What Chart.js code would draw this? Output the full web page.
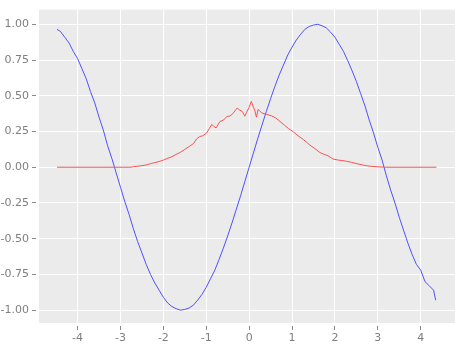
<!DOCTYPE html>
<html>
<head>
<meta charset="utf-8">
<script src="https://cdn.jsdelivr.net/npm/chart.js@4"></script>
<style>
  html,body{margin:0;padding:0;background:#fff}
  #wrap{width:461px;height:350px;position:relative}
</style>
</head>
<body>
<div id="wrap"><canvas id="c" width="461" height="350"></canvas></div>
<script>
// blue curve
const blueX=[-4.48,-4.4,-4.3,-4.2,-4.1,-4.0,-3.9,-3.8,-3.7,-3.6,-3.5,-3.4,-3.3,-3.2,-3.1,-3.0,-2.9,-2.8,-2.7,-2.6,-2.5,-2.4,-2.3,-2.2,-2.1,-2.0,-1.9,-1.8,-1.7,-1.6,-1.5,-1.4,-1.3,-1.2,-1.1,-1.0,-0.9,-0.8,-0.7,-0.6,-0.5,-0.4,-0.3,-0.2,-0.1,
  0,0.1,0.2,0.3,0.4,0.5,0.6,0.7,0.8,0.9,1.0,1.1,1.2,1.3,1.4,1.5,1.6,1.7,1.8,1.9,2.0,2.1,2.2,2.3,2.4,2.5,2.6,2.7,2.8,2.9,3.0,3.1,3.2,3.3,3.4,3.5,3.6,3.7,3.8,3.9,4.0,4.1,4.2,4.3,4.35];
const blueY=[0.965,0.95,0.91,0.87,0.81,0.76,0.69,0.62,0.53,0.45,0.35,0.26,0.15,0.06,-0.04,-0.14,-0.24,-0.33,-0.43,-0.52,-0.60,-0.68,-0.75,-0.81,-0.86,-0.91,-0.95,-0.975,-0.99,-1.0,-0.995,-0.985,-0.965,-0.93,-0.89,-0.84,-0.78,-0.72,-0.645,-0.565,-0.48,-0.39,-0.295,-0.2,-0.1,
  0,0.1,0.2,0.295,0.39,0.48,0.565,0.645,0.715,0.785,0.84,0.89,0.93,0.965,0.985,0.995,1.0,0.99,0.975,0.945,0.91,0.86,0.81,0.745,0.675,0.6,0.515,0.43,0.33,0.24,0.14,0.05,-0.06,-0.16,-0.25,-0.35,-0.44,-0.53,-0.61,-0.68,-0.72,-0.8,-0.83,-0.86,-0.93];

// red curve
const redX=[-4.48,-3.5,-2.75,-2.7,-2.6,-2.5,-2.4,-2.3,-2.2,-2.1,-2.0,-1.9,-1.8,-1.7,-1.6,-1.5,-1.4,-1.3,-1.22,-1.15,-1.08,-0.99,-0.93,-0.87,-0.82,-0.77,-0.72,-0.68,-0.6,-0.52,-0.45,-0.38,-0.28,-0.22,-0.16,-0.1,-0.06,0.0,0.05,0.1,0.13,0.17,0.21,0.29,0.41,0.52,0.62,0.72,0.82,0.92,1.03,1.14,1.26,1.34,1.42,1.53,1.65,1.75,1.84,1.96,2.08,2.19,2.3,2.39,2.54,2.65,2.74,2.85,3.0,3.17,4.37];
const redY=[0,0,0,0.004,0.007,0.011,0.016,0.025,0.032,0.04,0.05,0.063,0.074,0.09,0.105,0.125,0.145,0.165,0.2,0.215,0.22,0.24,0.27,0.30,0.285,0.275,0.30,0.32,0.33,0.355,0.358,0.375,0.414,0.40,0.39,0.357,0.384,0.42,0.46,0.42,0.40,0.35,0.405,0.38,0.37,0.36,0.345,0.32,0.295,0.27,0.248,0.22,0.195,0.175,0.154,0.131,0.103,0.09,0.08,0.057,0.05,0.046,0.04,0.034,0.023,0.016,0.01,0.006,0.003,0,0];

const xTicks=[-4,-3,-2,-1,0,1,2,3,4];
const yTicks=[-1,-0.75,-0.5,-0.25,0,0.25,0.5,0.75,1];

const pts=(xs,ys)=>xs.map((x,i)=>({x:x,y:ys[i]}));

// grey panel + gap between ticks and panel (ggplot look)
const panelBg={
  id:'panelBg',
  beforeDraw(ch){
    const a=ch.chartArea,c=ch.ctx;
    c.save();c.fillStyle='#ebebeb';
    c.fillRect(a.left,a.top,a.right-a.left,a.bottom-a.top);
    c.restore();
  },
  afterDraw(ch){
    const a=ch.chartArea,c=ch.ctx;
    c.save();c.fillStyle='#ffffff';
    c.fillRect(a.left-3,a.top,3,a.bottom-a.top);
    c.fillRect(a.left,a.bottom,a.right-a.left,3);
    c.restore();
  }
};

new Chart(document.getElementById('c'),{
  type:'scatter',
  data:{datasets:[
    {data:pts(blueX,blueY),showLine:true,borderColor:'#5050ff',borderWidth:1,pointRadius:0,tension:0,order:2},
    {data:pts(redX,redY),showLine:true,borderColor:'#ff5050',borderWidth:1,pointRadius:0,tension:0,order:1}
  ]},
  options:{
    responsive:false,animation:false,devicePixelRatio:1,
    layout:{padding:{top:5,right:6,left:0,bottom:0}},
    plugins:{legend:{display:false},tooltip:{enabled:false}},
    scales:{
      x:{type:'linear',min:-4.9,max:4.8,
        afterBuildTicks:s=>{s.ticks=xTicks.map(v=>({value:v}));},
        afterFit:s=>{s.height=27;},
        border:{display:false},
        grid:{color:'#ffffff',lineWidth:1,tickColor:'#8a8a8a',tickLength:7},
        ticks:{color:'#7f7f7f',padding:2,font:{family:'DejaVu Sans',size:11},callback:v=>String(v)}},
      y:{min:-1.09,max:1.103,
        afterBuildTicks:s=>{s.ticks=yTicks.map(v=>({value:v}));},
        afterFit:s=>{s.width=39;},
        border:{display:false},
        grid:{color:'#ffffff',lineWidth:1,tickColor:'#8a8a8a',tickLength:7},
        ticks:{color:'#7f7f7f',padding:3,font:{family:'DejaVu Sans',size:11},callback:v=>v.toFixed(2)}}
    }
  },
  plugins:[panelBg]
});
</script>
</body>
</html>
